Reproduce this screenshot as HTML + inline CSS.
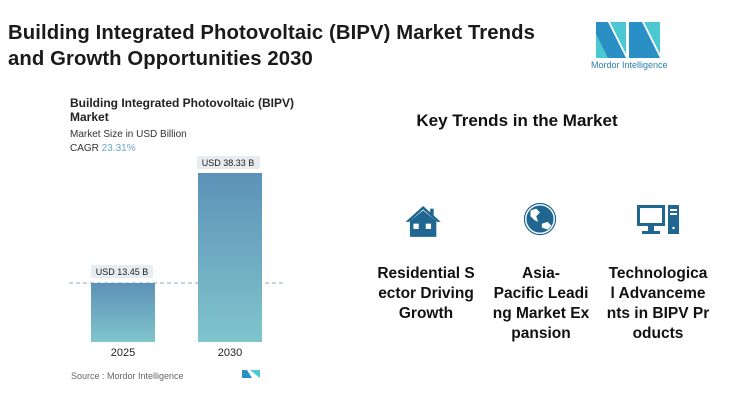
<!DOCTYPE html>
<html><head><style>
body{margin:0;width:750px;height:402px;background:#fff;font-family:"Liberation Sans",sans-serif;position:relative;overflow:hidden}
.a{position:absolute}
.t{font-weight:bold;font-size:15.5px;color:#111;text-align:center;line-height:20px;width:110px}
</style></head><body>
<div class="a" style="left:8px;top:20px;font-size:20.3px;font-weight:bold;line-height:26px;color:#1a1a1a;letter-spacing:0.1px">Building Integrated Photovoltaic (BIPV) Market Trends<br>and Growth Opportunities 2030</div>
<svg class="a" style="left:596px;top:22px" width="64" height="36" viewBox="0 0 64 36">
<polygon points="0,0 12,0 30,36 0,36" fill="#2a8fc4"/><polygon points="0,12 12,36 0,36" fill="#4cc9d0"/>
<polygon points="14,0 30,0 30,32" fill="#4cc9d0"/><polygon points="33,0 46,0 64,36 33,36" fill="#2a8fc4"/>
<polygon points="48,0 64,0 64,32" fill="#4cc9d0"/>
</svg>
<div class="a" style="left:591px;top:60px;font-size:9px;color:#2a7fb0">Mordor Intelligence</div>

<div class="a" style="left:70px;top:96px;font-size:12px;font-weight:bold;line-height:14px;color:#222">Building Integrated Photovoltaic (BIPV)<br>Market</div>
<div class="a" style="left:70px;top:129px;font-size:10px;color:#333">Market Size in USD Billion</div>
<div class="a" style="left:70px;top:143px;font-size:10px;color:#333">CAGR <span style="color:#6aa6cc">23.31%</span></div>
<svg class="a" style="left:0;top:0" width="300" height="402">
<defs><linearGradient id="g" x1="0" y1="0" x2="0" y2="1"><stop offset="0" stop-color="#5d92b8"/><stop offset="1" stop-color="#7fc5cc"/></linearGradient></defs>
<line x1="69" y1="283" x2="286" y2="283" stroke="#8aa7c0" stroke-dasharray="4,3"/>
<rect x="91" y="283" width="64" height="59" fill="url(#g)"/>
<rect x="198" y="173" width="64" height="169" fill="url(#g)"/>
<rect x="91" y="265" width="62" height="13" rx="2" fill="#e6ecef"/>
<rect x="197" y="156" width="63" height="13" rx="2" fill="#e6ecef"/>
<text x="122" y="275" font-size="9" text-anchor="middle" fill="#222">USD 13.45 B</text>
<text x="228" y="166" font-size="9" text-anchor="middle" fill="#222">USD 38.33 B</text>
<text x="123" y="356" font-size="11" text-anchor="middle" fill="#222">2025</text>
<text x="230" y="356" font-size="11" text-anchor="middle" fill="#222">2030</text>
<text x="71" y="379" font-size="9" fill="#666">Source :  Mordor Intelligence</text>
<polygon points="242,370 247,370 252,378 242,378" fill="#2a8fc4"/><polygon points="250,370 260,370 260,378" fill="#4cc9d0"/>
</svg>

<div class="a" style="left:367px;top:111px;width:300px;text-align:center;font-size:17px;font-weight:bold;color:#111">Key Trends in the Market</div>

<svg class="a" style="left:402px;top:202px" width="44" height="38" viewBox="0 0 50 40">
<polygon points="24,3 4,21 8,21 24,7 40,21 44,21" fill="#1f6690"/><rect x="32" y="6" width="4" height="8" fill="#1f6690"/>
<polygon points="9,20 24,8 39,20 39,38 9,38" fill="#1f6690"/>
<rect x="13" y="23" width="6" height="6" fill="#fff"/><rect x="27" y="23" width="6" height="6" fill="#fff"/>
</svg>
<svg class="a" style="left:521px;top:201px" width="38" height="38" viewBox="0 0 40 40">
<circle cx="20" cy="19" r="17" fill="#1f6690"/><circle cx="20" cy="19" r="15" fill="none" stroke="#fff" stroke-width="1.5"/>
<path d="M10,10 L16,8 L20,12 L16,16 L18,22 L14,20 L10,16Z M22,24 L28,22 L32,26 L28,30 L22,28Z" fill="#fff"/>
</svg>
<svg class="a" style="left:635px;top:203px" width="46" height="34" viewBox="0 0 46 34">
<rect x="2" y="2" width="28" height="21" fill="#1f6690"/><rect x="5" y="5" width="22" height="15" fill="#fff"/>
<rect x="13" y="23" width="6" height="5" fill="#1f6690"/><rect x="7" y="28" width="18" height="3" fill="#1f6690"/>
<rect x="33" y="2" width="11" height="29" fill="#1f6690"/><rect x="35" y="6" width="7" height="2" fill="#fff"/><rect x="35" y="10" width="7" height="2" fill="#fff"/><circle cx="38.5" cy="25" r="1.2" fill="#fff"/>
</svg>

<div class="a t" style="left:371px;top:264px">Residential S<br>ector Driving<br>Growth</div>
<div class="a t" style="left:486px;top:264px">Asia-<br>Pacific Leadi<br>ng Market Ex<br>pansion</div>
<div class="a t" style="left:603px;top:264px">Technologica<br>l Advanceme<br>nts in BIPV Pr<br>oducts</div>
</body></html>
